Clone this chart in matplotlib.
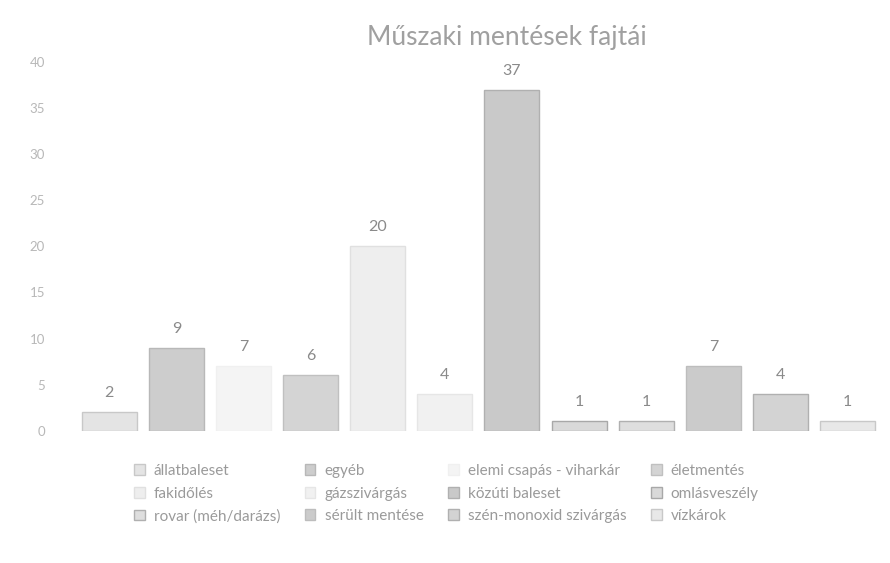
import matplotlib.pyplot as plt

categories = ['állatbaleset', 'egyéb', 'elemi csapás - viharkár', 'életmentés',
              'fakidőlés', 'gázszivárgás', 'közúti baleset', 'omlásveszély',
              'rovar (méh/darázs)', 'sérült mentése', 'szén-monoxid szivárgás', 'vízkárok']
values = [2, 9, 7, 6, 20, 4, 37, 1, 1, 7, 4, 1]
colors = ['#e4e4e4', '#cdcdcd', '#f4f4f4', '#d4d4d4', '#eeeeee', '#f1f1f1',
          '#c9c9c9', '#d9d9d9', '#dedede', '#cbcbcb', '#d3d3d3', '#e8e8e8']
edges = ['#c8c8c8', '#b8b8b8', '#f0f0f0', '#c0c0c0', '#e0e0e0', '#e6e6e6',
         '#b0b0b0', '#a8a8a8', '#b0b0b0', '#bdbdbd', '#b0b0b0', '#c8c8c8']
yticks = [0, 5, 10, 15, 20, 25, 30, 35, 40]

plt.rcParams['font.family'] = ['Lato', 'DejaVu Sans']
txt = '#9a9a9a'

fig = plt.figure(figsize=(8.9, 5.63), dpi=100)
ax = fig.add_axes([0.085, 0.235, 0.905, 0.655])

handles = []
for i, (cat, v) in enumerate(zip(categories, values)):
    b = ax.bar(i, v, width=0.82, color=colors[i], edgecolor=edges[i],
               linewidth=1.0, label=cat)
    handles.append(b)
    ax.text(i, v + 1.3, str(v), ha='center', va='bottom', fontsize=11.5, color='#8a8a8a')

ax.set_xlim(-0.5, 11.5)
ax.set_ylim(0, 40)
ax.set_yticks(yticks)
ax.set_xticks([])
ax.tick_params(axis='y', length=0, labelsize=9.5, labelcolor='#b8b8b8', pad=22)
for s in ax.spines.values():
    s.set_visible(False)

fig.suptitle('Műszaki mentések fajtái', x=0.57, y=0.955, fontsize=19, color='#a0a0a0')

# Excel legend fills row by row
order = [i for c in range(4) for i in (c, c + 4, c + 8)]
leg = fig.legend([handles[i] for i in order], [categories[i] for i in order],
                 ncol=4, loc='upper left', bbox_to_anchor=(0.135, 0.2),
                 frameon=False, fontsize=11, labelcolor=txt,
                 handlelength=0.7, handleheight=0.7, handletextpad=0.6,
                 columnspacing=1.6, labelspacing=0.55)

fig.savefig('out.png', dpi=100, facecolor='white')
